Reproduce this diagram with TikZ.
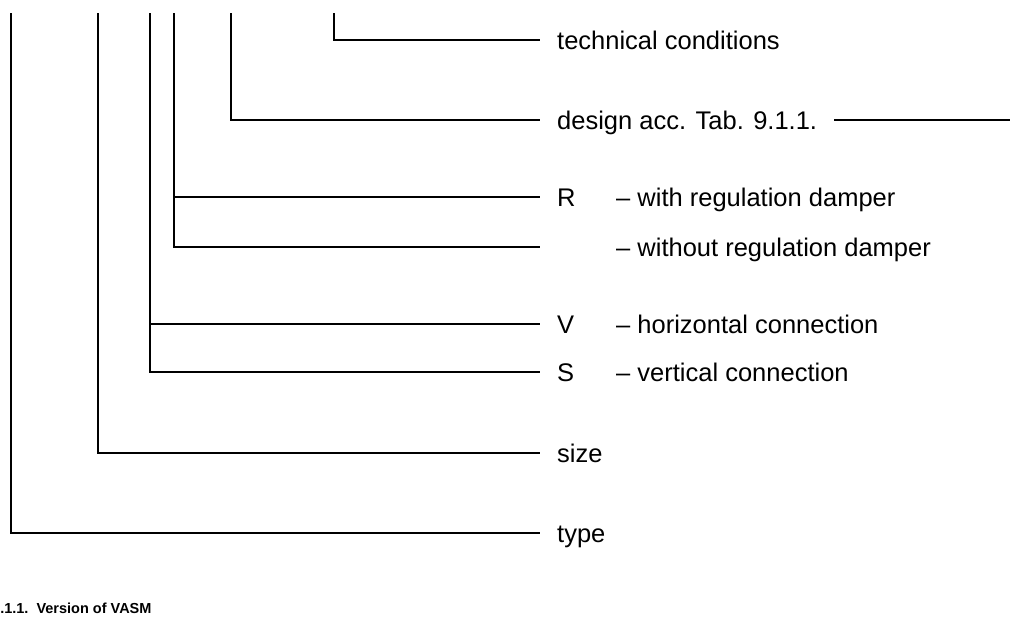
\documentclass[tikz,border=0pt]{standalone}
\usepackage{fontspec}
\setmainfont{Liberation Sans}
\usetikzlibrary{calc}

\begin{document}
\begin{tikzpicture}[x=1pt,y=-1pt,
  lead/.style={line width=2.2pt},
  lbl/.style={anchor=base west,inner sep=0pt,font=\fontsize{25.5}{30}\selectfont}]
  \useasboundingbox (0,0) rectangle (1017,641);
  % top ends of the lead lines
  \coordinate (topType) at (11,13);
  \coordinate (topSize) at (98,13);
  \coordinate (topConn) at (150,13);
  \coordinate (topDamp) at (174,13);
  \coordinate (topDes) at (231,13);
  \coordinate (topTech) at (334,13);
  % right ends of the lead lines
  \coordinate (eTech) at (540,40);
  \coordinate (eDes) at (540,120);
  \coordinate (eR) at (540,197);
  \coordinate (eNoR) at (540,247);
  \coordinate (eV) at (540,324);
  \coordinate (eS) at (540,372);
  \coordinate (eSize) at (540,453);
  \coordinate (eType) at (540,533);
  \coordinate (eTab) at (1010,120);
  % labels
  \node[lbl] (tech) at (557,49) {technical conditions};
  \node[lbl] (des) at (557,129) {design acc. Tab. 9.1.1.};
  \node[lbl] (R) at (557,206) {R};
  \node[lbl] (withR) at (616,206) {– with regulation damper};
  \node[lbl] (noR) at (616,256) {– without regulation damper};
  \node[lbl] (V) at (557,333) {V};
  \node[lbl] (horz) at (616,333) {– horizontal connection};
  \node[lbl] (S) at (557,381) {S};
  \node[lbl] (vert) at (616,381) {– vertical connection};
  \node[lbl] (size) at (557,462) {size};
  \node[lbl] (type) at (557,542) {type};
  \node[anchor=base west,inner sep=0pt,font=\fontsize{14.5}{17}\selectfont\bfseries] (title) at (-8,613) {9.1.1.\ \ Version of VASM};
  % lead lines
  \draw[lead] (topType) |- (eType);
  \draw[lead] (topSize) |- (eSize);
  \draw[lead] (topConn) |- (eS);
  \draw[lead] (topConn |- eV) -- (eV);
  \draw[lead] (topDamp) |- (eNoR);
  \draw[lead] (topDamp |- eR) -- (eR);
  \draw[lead] (topDes) |- (eDes);
  \draw[lead] (topTech) |- (eTech);
  \draw[lead] ($(des.east |- eTab)+(17,0)$) -- (eTab);
\end{tikzpicture}
\end{document}
